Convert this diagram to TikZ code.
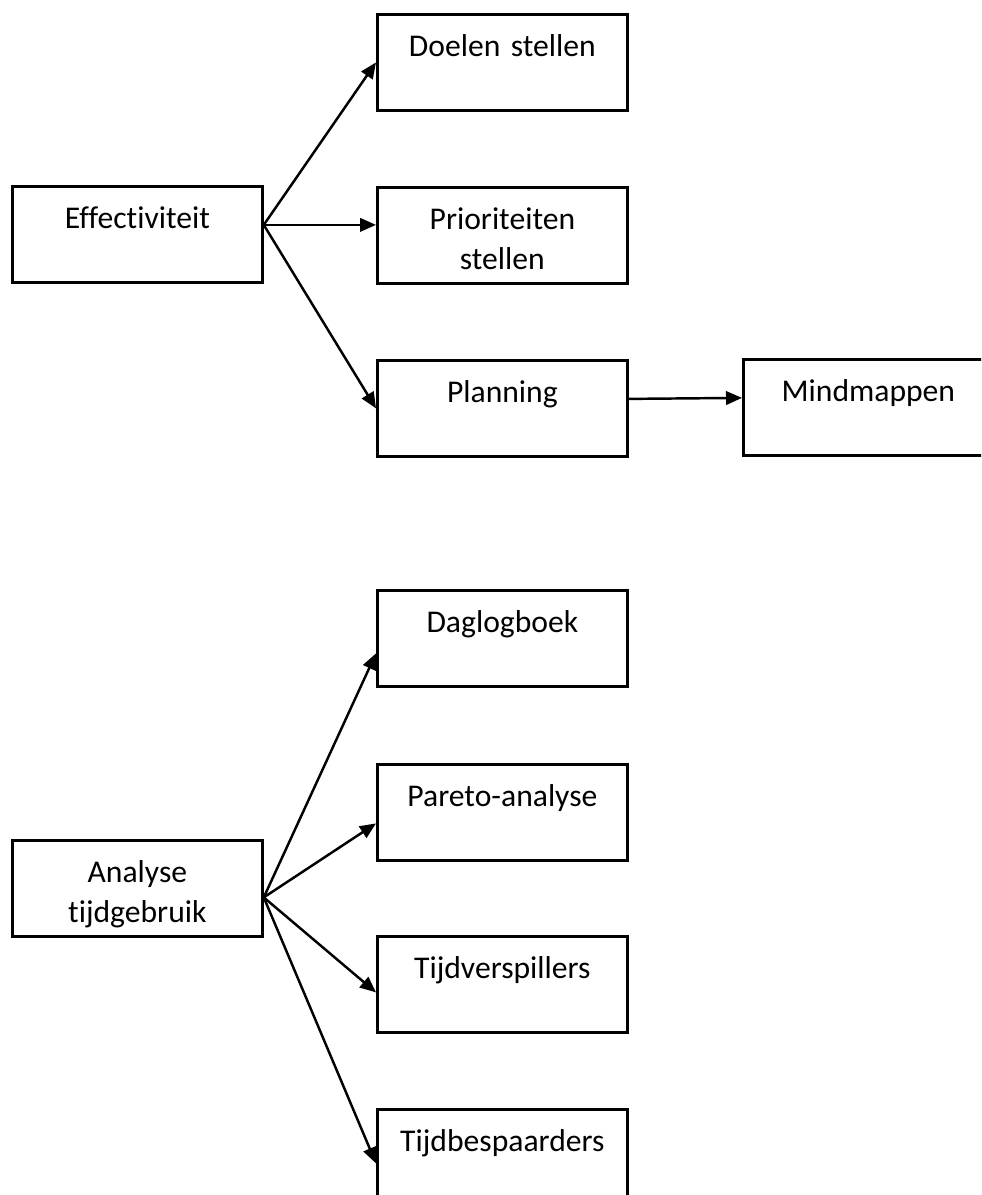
\documentclass[tikz,border=0pt]{standalone}
\usepackage{fontspec}
\setmainfont{Carlito}[Ligatures={NoCommon}]
\usepackage{tikz}
\usetikzlibrary{arrows.meta}
\definecolor{ChartInk}{gray}{0}
\tikzset{
  chart/.style={font=\fontsize{18}{22.8}\selectfont,text=ChartInk,x=0.02cm,y=-0.02cm},
  topic/.style={draw=ChartInk,line width=1.6pt,anchor=north west,inner sep=0pt,
    text width=5cm,align=center,text height=0.84cm,text depth=1.08cm},
  branch/.style={-{Triangle[length=0.32cm,width=0.27cm]},line width=1.4pt,draw=ChartInk},
}

\begin{document}
\begin{tikzpicture}[chart]
  \useasboundingbox (0,0) rectangle (981,1195);
  \clip (0,0) rectangle (981,1195);

  \node[topic] (eff) at (11,185) {Effectiviteit};
  \node[topic] (doel) at (376,13) {Doelen stellen};
  \node[topic] (prio) at (376,186) {Prioriteiten\\stellen};
  \node[topic] (plan) at (376,359) {Planning};
  \node[topic] (mind) at (742,358) {Mindmappen};

  \coordinate (effout) at ([yshift=0.19cm]eff.east);
  \draw[branch] (effout) -- (doel.west);
  \draw[branch] (effout) -- (effout -| prio.west);
  \draw[branch] (effout) -- (plan.west);
  \draw[branch] ([yshift=0.19cm]plan.east) -- ([yshift=0.19cm]mind.west);

  \node[topic] (ana) at (11,839) {Analyse\\tijdgebruik};
  \node[topic] (dag) at (376,589) {Daglogboek};
  \node[topic] (par) at (376,763) {Pareto-analyse};
  \node[topic] (tijdv) at (376,935) {Tijdverspillers};
  \node[topic] (tijdb) at (376,1108) {Tijdbespaarders};

  \coordinate (anaout) at ([yshift=-0.18cm]ana.east);
  \foreach \target/\drop in {dag/-0.3cm,par/-0.22cm,tijdv/-0.16cm,tijdb/-0.12cm}
    \draw[branch] (anaout) -- ([yshift=\drop]\target.west);
\end{tikzpicture}
\end{document}
